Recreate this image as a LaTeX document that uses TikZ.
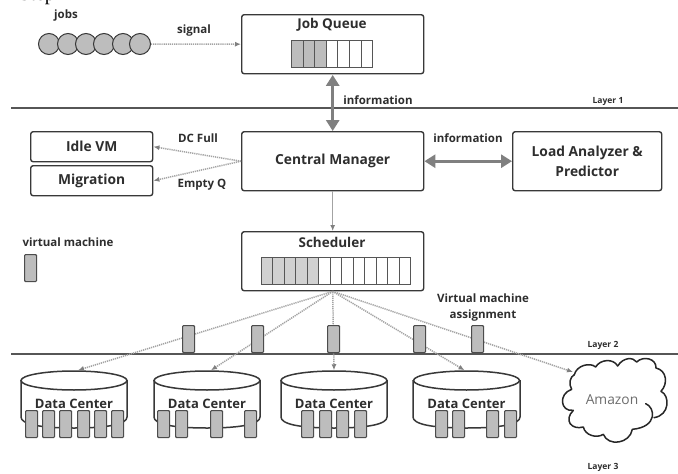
\documentclass[tikz,border=0pt]{standalone}
\usepackage{fontspec}
\setmainfont{Open Sans}
\newfontfamily\seriffont{Liberation Serif}
\usetikzlibrary{arrows.meta,shapes.geometric}
\definecolor{ln}{gray}{0.22}
\definecolor{fillg}{gray}{0.74}
\definecolor{arrg}{gray}{0.5}
\definecolor{dotg}{gray}{0.64}
\definecolor{txt}{gray}{0.18}
\tikzset{
 x=1pt,y=-1pt,
 box/.style={draw=ln,line width=1.4pt,rounded corners=2.5pt,fill=white,inner sep=0pt,anchor=north west,align=center,text=txt,font=\fontsize{13.8}{19.5}\selectfont\bfseries},
 boxtitle/.style={text=txt,inner sep=0pt,font=\fontsize{13.5}{15}\selectfont\bfseries},
 lbl/.style={text=txt,inner sep=0pt,font=\fontsize{11.5}{16}\selectfont\bfseries,align=center},
 layerlbl/.style={text=txt,inner sep=0pt,font=\fontsize{8.5}{10}\selectfont\bfseries},
 dotarrow/.style={draw=dotg,line width=1.5pt,dash pattern=on 1.2pt off 0.9pt,-{Latex[length=6pt,width=5pt,color=arrg]}},
 thinarrow/.style={draw=dotg,line width=1.1pt,-{Latex[length=6pt,width=5pt,color=arrg]}},
 fatarrow/.style={draw=arrg,line width=3.2pt,{Triangle[length=11pt,width=13pt]}-{Triangle[length=11pt,width=13pt]}},
 layerline/.style={draw=ln!85,line width=2pt},
 cell/.style={draw=ln!85,line width=1pt,inner sep=0pt,anchor=north west,minimum height=27pt},
 vm/.style={draw=ln!90,line width=1.1pt,rounded corners=1pt,fill=fillg,minimum width=12pt,minimum height=27pt,inner sep=0pt,anchor=north west},
 job/.style={circle,draw=ln,line width=1pt,fill=fillg,minimum size=21pt,inner sep=0pt},
 drumtop/.style={ellipse,draw=ln,line width=1.5pt,fill=white,minimum width=106pt,minimum height=19pt,inner sep=0pt},
 drumbody/.style={draw=ln,line width=1.5pt,fill=white},
 dctext/.style={text=txt,inner sep=0pt,font=\fontsize{13}{15}\selectfont\bfseries},
 cloudline/.style={draw=ln!70!black,line width=1.5pt,line join=round,line cap=round},
}
\begin{document}
\begin{tikzpicture}
\useasboundingbox[fill=white] (0,0) rectangle (678,474);
% caption fragment cut by the top edge
\begin{scope}
\clip (0,0) rectangle (678,474);
\node[anchor=base east,inner sep=0pt,font=\fontsize{20}{22}\selectfont\seriffont] (cap) at (55,0.5) {Step};
\end{scope}
% layer lines
\coordinate (l1a) at (11,108); \coordinate (l1b) at (678,108);
\coordinate (l2a) at (11,354); \coordinate (l2b) at (678,354);
\draw[layerline] (l1a) -- (l1b);
\draw[layerline,line width=1.5pt] (l2a) -- (l2b);
% boxes
\node[box,minimum width=182pt,minimum height=59pt] (jq) at (241,14) {};
\node[box,minimum width=182pt,minimum height=59pt] (cm) at (241,131) {Central Manager};
\node[box,minimum width=149pt,minimum height=59pt] (la) at (512,131) {Load Analyzer \&\\Predictor};
\node[box,minimum width=122pt,minimum height=30pt] (idle) at (30,131) {Idle VM};
\node[box,minimum width=122pt,minimum height=30pt] (mig) at (30,165) {Migration};
\node[box,minimum width=182pt,minimum height=59pt] (sc) at (241,231) {};
\node[boxtitle] (jqt) at (332,25) {Job Queue};
\node[boxtitle] (sct) at (332,242) {Scheduler};
% queues
\foreach \i in {0,...,6} {
  \ifnum\i<3 \def\cf{fillg}\else\def\cf{white}\fi
  \node[cell,fill=\cf,minimum width=11.6pt] (q\i) at ({291+\i*11.6},40) {};
}
\foreach \i in {0,...,12} {
  \ifnum\i<5 \def\cf{fillg!70!white}\else\def\cf{white}\fi
  \node[cell,fill=\cf,minimum width=11.46pt] (s\i) at ({261+\i*11.46},257) {};
}
% jobs
\foreach \i/\x in {1/49,2/68,3/86,4/104,5/123,6/140}
  \node[job] (j\i) at (\x,44) {};
\node[lbl] (jobs) at (66,16) {jobs};
% connectors of the upper part
\draw[dotarrow] (j6.east) -- (jq.west);
\draw[fatarrow] ([yshift=-0.5pt]jq.south) -- (cm.north);
\draw[fatarrow] (cm.east) -- (la.west);
\draw[dotarrow] (cm.west) -- (idle.east);
\draw[dotarrow] (cm.west) -- (mig.east);
\draw[thinarrow] (cm.south) -- (sc.north);
% labels
\node[lbl] (sig) at (194,31) {signal};
\node[lbl] (inf1) at (378,100) {information};
\node[lbl] (inf2) at (468,138) {information};
\node[lbl] (dcf) at (198,138) {DC Full};
\node[lbl] (emq) at (202,185) {Empty Q};
\node[lbl] (vml) at (68,242) {virtual machine};
\node[vm] (vmleg) at (24,254) {};
\node[layerlbl] (la1) at (608,101) {Layer 1};
\node[layerlbl] (la2) at (603,345) {Layer 2};
\node[layerlbl] (la3) at (603,467) {Layer 3};
\node[lbl] (vma) at (483,308) {Virtual machine\\assignment};
% data centers
\foreach \n/\l/\c/\r in {d1/21/74/127,d2/154/207/260,d3/281/334/387,d4/413/466.5/520} {
  \draw[drumbody] (\l,380) -- (\l,417) .. controls (\l,424) and ({\l+18},428) .. (\c,428)
     .. controls ({\r-18},428) and (\r,424) .. (\r,417) -- (\r,380);
  \node[drumtop] (\n) at (\c,380.5) {};
  \node[dctext] (\n t) at (\c,404) {Data Center};
}
\foreach \x in {25,42,59,77,94,111, 157,175,210,244, 301,319,336,354, 435,452,486,504}
  \node[vm] (dv\x) at (\x,410) {};
% amazon cloud
\begin{scope}[shift={(555,352)},x=0.3333pt,y=-0.3333pt]
\draw[cloudline] (58,68) .. controls (65,40) and (105,30) .. (122,45)
  .. controls (135,22) and (175,18) .. (188,42)
  .. controls (205,15) and (235,15) .. (245,30)
  .. controls (265,10) and (305,20) .. (303,48)
  .. controls (335,55) and (340,95) .. (318,118)
  .. controls (345,130) and (345,190) .. (297,197);
\draw[cloudline] (272,155) .. controls (300,165) and (310,225) .. (232,232)
  .. controls (225,275) and (160,285) .. (145,247)
  .. controls (125,260) and (90,250) .. (85,225)
  .. controls (50,235) and (25,205) .. (55,175)
  .. controls (15,180) and (10,125) .. (50,112)
  .. controls (40,95) and (45,75) .. (58,68);
\end{scope}
\node[inner sep=0pt,text=txt!70!white,font=\fontsize{13.8}{15}\selectfont] (am) at (612,400) {Amazon};
% assignment arrows
\draw[dotarrow] (sc.south) -- ([xshift=4pt]d1.north);
\draw[dotarrow] (sc.south) -- ([xshift=4pt]d2.north);
\draw[dotarrow] (sc.south) -- (d3.north);
\draw[dotarrow] (sc.south) -- ([xshift=-2pt]d4.north);
\coordinate (amin) at (573,372);
\draw[dotarrow] (sc.south) -- (amin);
% VMs in transit
\foreach \i/\x in {1/182,2/251,3/327,4/413,5/471}
  \node[vm] (tv\i) at (\x,325) {};
\end{tikzpicture}
\end{document}
